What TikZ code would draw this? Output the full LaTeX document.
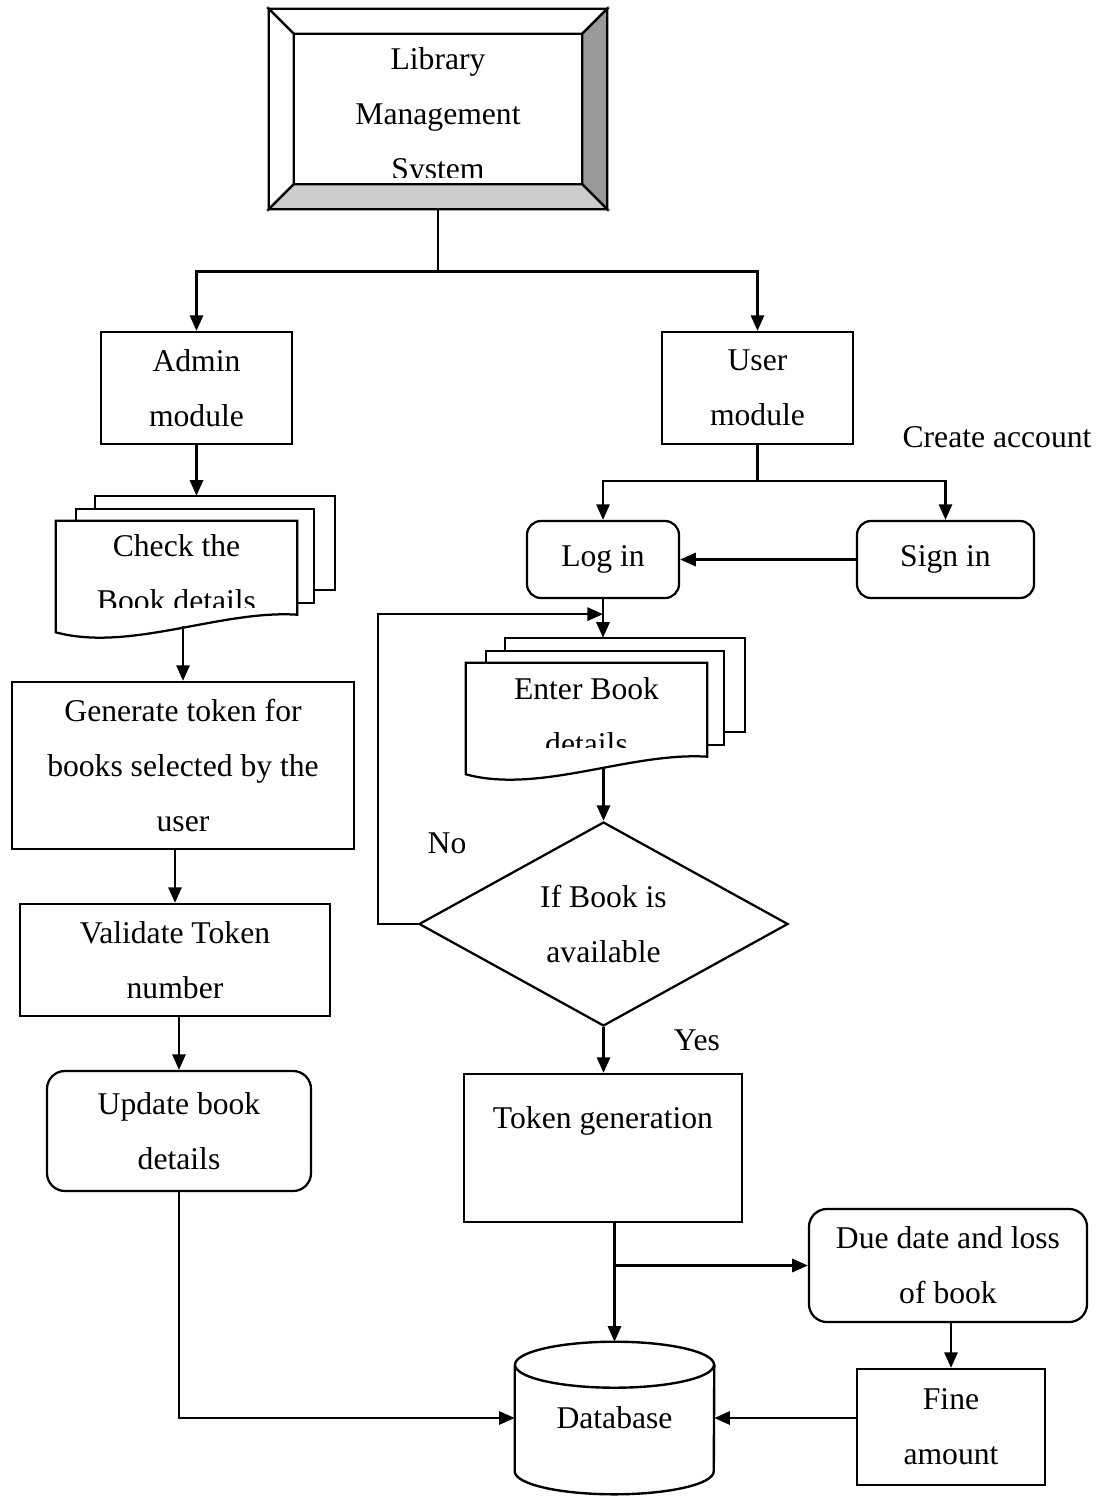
\documentclass[tikz,border=0pt]{standalone}
\usepackage{fontspec}
\setmainfont{Liberation Serif}
\usetikzlibrary{positioning, arrows.meta, calc, shapes.geometric}
\definecolor{bevelside}{HTML}{999999}
\definecolor{bevelbase}{HTML}{CCCCCC}

\begin{document}
\begin{tikzpicture}[
    x=0.025cm, y=-0.025cm,
    txt/.style={font=\fontsize{22.5pt}{39pt}\selectfont, align=center},
    box/.style={draw, line width=1.6pt, fill=white},
    module/.style={box, txt, minimum width=4.775cm, minimum height=2.8cm},
    process/.style={box, txt, inner sep=2pt},
    roundbox/.style={box, txt, rounded corners=0.45cm},
    sheet/.style={txt, minimum width=6.025cm, minimum height=2.775cm, inner sep=0pt},
    decide/.style={box, txt, diamond, minimum width=9.225cm, minimum height=4.95cm, inner sep=0pt},
    store/.style={txt, minimum width=4.975cm, minimum height=3.8cm},
    arr/.style={-{Triangle[length=0.39cm, width=0.33cm]}, line width=1.7pt},
    conn/.style={line width=1.7pt},
    lbl/.style={txt},
]
\useasboundingbox (0,0) rectangle (1099,1497);

% Title frame
\node[minimum width=8.45cm, minimum height=5cm, inner sep=0pt] (lms) at (438,109) {};
\path (lms.north west) ++(25,25) coordinate (inw)
      (lms.north east) ++(-25,25) coordinate (ine)
      (lms.south east) ++(-25,-25) coordinate (ise)
      (lms.south west) ++(25,-25) coordinate (isw);
\draw[box] (lms.north west) -- (lms.north east) -- (ine) -- (inw) -- cycle;
\draw[box] (lms.north west) -- (inw) -- (isw) -- (lms.south west) -- cycle;
\draw[box, fill=bevelside] (lms.north east) -- (lms.south east) -- (ise) -- (ine) -- cycle;
\draw[box, fill=bevelbase] (lms.south west) -- (lms.south east) -- (ise) -- (isw) -- cycle;
\draw[box] (inw) rectangle (ise);
\begin{scope}
  \clip (inw) rectangle ($(ise)+(0,-7)$);
  \node[txt] (lmstxt) at ($(lms.center)+(0,8)$) {Library\\Management\\System};
\end{scope}

% Admin side
\node[module] (admin) at (196.5,388) {Admin\\module};
\node[sheet] (chk) at (176.5,576.5) {};
\draw[box] ($(chk.north west)+(39,-25)$) rectangle ($(chk.north east)+(38,69)$);
\draw[box] ($(chk.north west)+(20,-12)$) rectangle ($(chk.north east)+(17,82)$);
\draw[box] (chk.south west) -- (chk.north west) -- (chk.north east) -- ($(chk.north east)+(0,94)$)
  .. controls ($(chk.north east)+(-77,89)$) and ($(chk.south west)+(74,20)$) .. (chk.south west) -- cycle;
\begin{scope}
  \clip (chk.north west) rectangle ($(chk.north east)+(0,87)$);
  \node[txt] (chktxt) at ($(chk.center)+(0,-3)$) {Check the\\Book details};
\end{scope}
\node[process, minimum width=8.55cm, minimum height=4.175cm] (gen) at (183,765.5)
  {Generate token for\\books selected by the\\user};
\node[process, minimum width=7.75cm, minimum height=2.8cm] (valid) at (175,960) {Validate Token\\number};
\node[roundbox, minimum width=6.6cm, minimum height=3cm] (upd) at (179,1131) {Update book\\details};

% User side
\node[module] (user) at (757.5,388) {User\\module};
\node[lbl] (create) at (997,437) {Create account};
\node[roundbox, rounded corners=0.35cm, minimum width=3.8cm, minimum height=1.925cm] (login) at (603,559.5) {Log in};
\node[roundbox, rounded corners=0.35cm, minimum width=4.425cm, minimum height=1.925cm] (signin) at (945.5,559.5) {Sign in};
\node[sheet] (enter) at (586.5,718.5) {};
\draw[box] ($(enter.north west)+(39,-25)$) rectangle ($(enter.north east)+(38,69)$);
\draw[box] ($(enter.north west)+(20,-12)$) rectangle ($(enter.north east)+(17,82)$);
\draw[box] (enter.south west) -- (enter.north west) -- (enter.north east) -- ($(enter.north east)+(0,94)$)
  .. controls ($(enter.north east)+(-77,89)$) and ($(enter.south west)+(74,20)$) .. (enter.south west) -- cycle;
\begin{scope}
  \clip (enter.north west) rectangle ($(enter.north east)+(0,85)$);
  \node[txt] (entertxt) at ($(enter.center)+(0,-2)$) {Enter Book\\details};
\end{scope}
\node[decide] (avail) at (603.5,924) {If Book is\\available};
\node[lbl] (no) at (447,843) {No};
\node[lbl] (yes) at (697,1040) {Yes};
\node[process, minimum width=6.95cm, minimum height=3.7cm] (token) at (603,1148) {Token generation\\[5pt]\mbox{}};
\node[roundbox, minimum width=6.95cm, minimum height=2.825cm] (due) at (948,1265.5) {Due date and loss\\of book};
\node[process, minimum width=4.7cm, minimum height=2.9cm] (fine) at (951,1427) {Fine\\amount};

% Database
\node[store] (db) at (614.5,1418) {Database};
\draw[conn] ($(db.north west)+(0,23)$) -- ($(db.south west)+(0,-23)$)
  arc[start angle=180, end angle=360, x radius=2.4875cm, y radius=0.575cm]
  -- ($(db.north east)+(0,23)$);
\draw[conn] ($(db.north)+(0,23)$) ellipse[x radius=2.4875cm, y radius=0.575cm];

% Connectors
\draw[conn] (lms.south) -- ++(0,62) coordinate (topsplit);
\draw[arr] (topsplit) -| (admin.north);
\draw[arr] (topsplit) -| (user.north);
\coordinate (chktop) at ($(chk.north)+(0,-25)$);
\draw[arr] (admin.south) -- (admin.south |- chktop);
\draw[arr] ($(chk.south -| gen.north)+(0,-6)$) -- (gen.north);
\draw[arr] (valid.north |- gen.south) -- (valid.north);
\draw[arr] (upd.north |- valid.south) -- (upd.north);
\draw[arr] (upd.south) |- (db.west);

\draw[conn] (user.south) -- ++(0,36) coordinate (usersplit);
\draw[arr] (usersplit) -| (login.north);
\draw[arr] (usersplit) -| (signin.north);
\draw[arr] (signin.west) -- (login.east);
\coordinate (entertop) at ($(enter.north)+(0,-25)$);
\draw[arr] (login.south) -- (login.south |- entertop);
\draw[arr] ($(enter.south -| avail.north)+(0,-7)$) -- (avail.north);
\draw[arr] (avail.west) -- ++(-40,0) |- ($(login.south)+(0,15)$);
\draw[arr] (avail.south) -- (avail.south |- token.north);
\draw[arr] (token.south -| db.north) -- (db.north);
\draw[arr] (db.north |- due.west) -- (due.west);
\draw[arr] (due.south -| fine.north) -- (fine.north);
\draw[arr] (fine.west |- db.east) -- (db.east);
\end{tikzpicture}
\end{document}
